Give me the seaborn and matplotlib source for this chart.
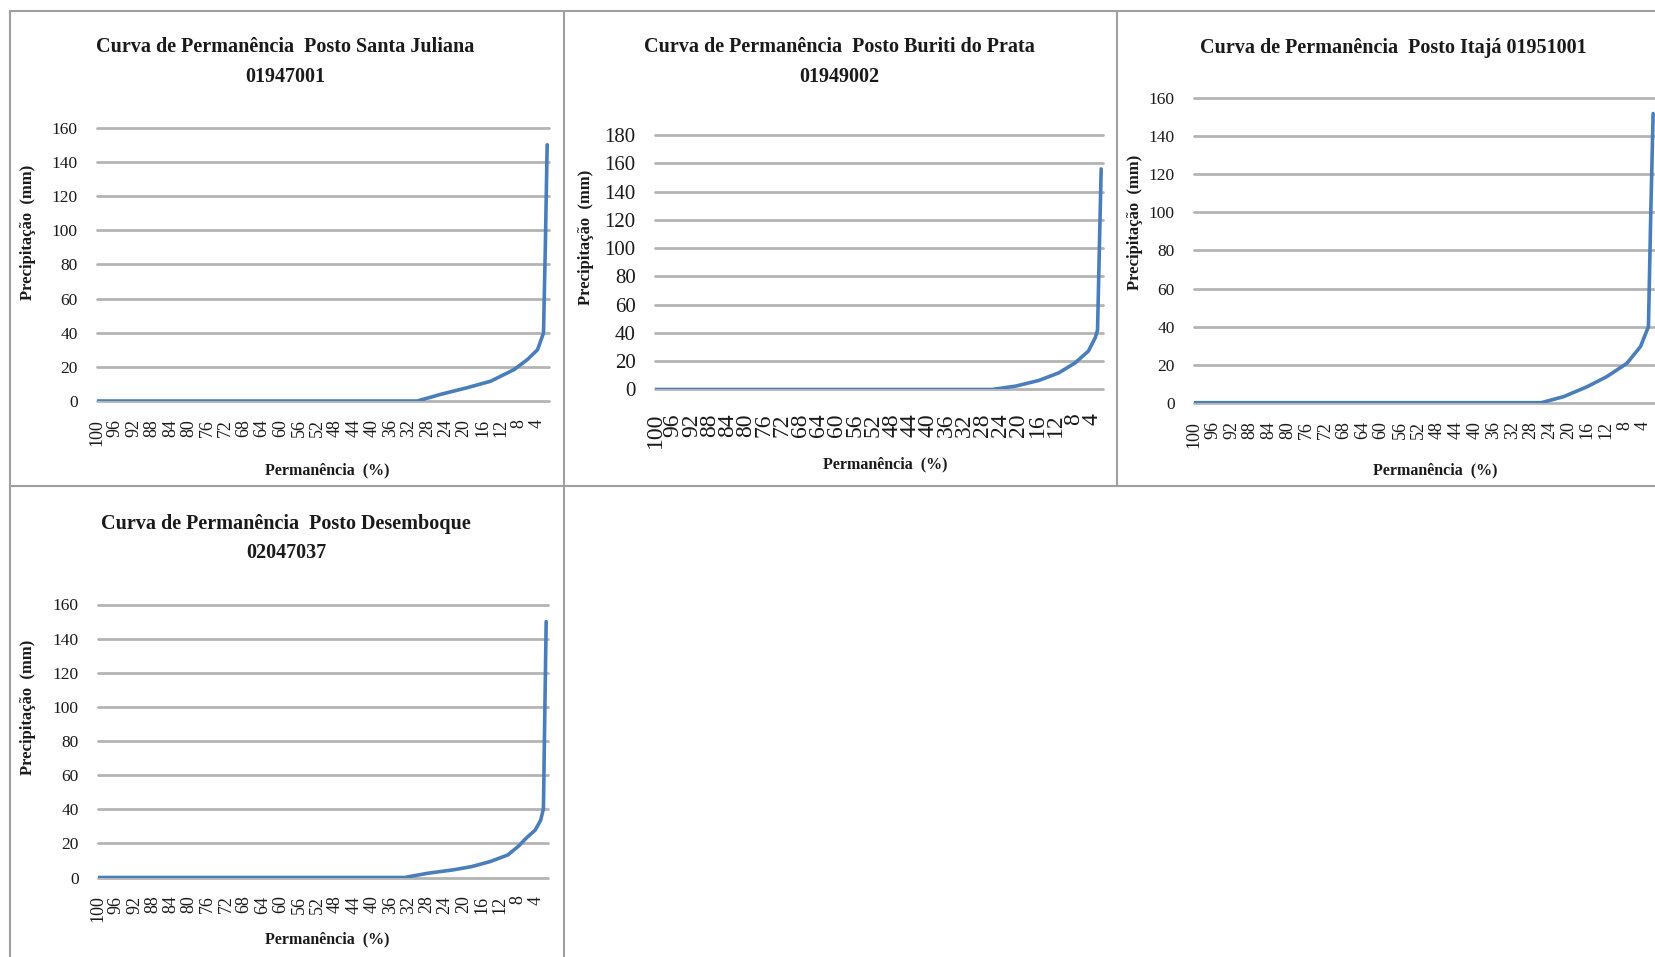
import matplotlib
matplotlib.use("Agg")
import matplotlib.pyplot as plt
from matplotlib.lines import Line2D
import seaborn as sns

# Curvas de permanência dos postos pluviométricos
titulos = [
    "Curva de Permanência  Posto Santa Juliana\n01947001",
    "Curva de Permanência  Posto Buriti do Prata\n01949002",
    "Curva de Permanência  Posto Itajá 01951001",
    "Curva de Permanência  Posto Desemboque\n02047037",
]

perm_santa_juliana = [100, 30.2, 25.1, 19.3, 14.2, 9.1, 6.2, 4.0, 2.7, 2.3, 1.9]
prec_santa_juliana = [0, 0, 3.9, 7.8, 11.6, 18.4, 24.3, 30.0, 39.8, 90, 150]

perm_buriti = [100, 25.9, 20.7, 15.6, 11.2, 7.6, 4.7, 3.2, 2.7, 2.3, 1.9]
prec_buriti = [0, 0, 2.4, 6.4, 11.8, 18.9, 27.2, 36.7, 42, 100, 156]

perm_itaja = [100, 25.8, 21.0, 16.0, 11.8, 7.5, 4.6, 2.9, 2.4, 1.9]
prec_itaja = [0, 0, 3.2, 8.4, 13.7, 20.7, 29.5, 40, 100, 152]

perm_desemboque = [100, 32.9, 27.8, 22.2, 18.2, 14.2, 10.3, 7.9, 6.3, 4.3, 3.1, 2.5, 2.2, 1.9]
prec_desemboque = [0, 0, 2.5, 4.5, 6.4, 9.3, 13.2, 18.5, 23, 27.8, 33.6, 40.4, 96, 150]

ymax = [160, 180, 160, 160]
xticks = list(range(100, 0, -4))

series = [
    (perm_santa_juliana, prec_santa_juliana),
    (perm_buriti, prec_buriti),
    (perm_itaja, prec_itaja),
    (perm_desemboque, prec_desemboque),
]

# --- layout (pixels da imagem 1655x957) ---
W, H = 1655, 957
# esquerda, direita, y do zero, y do topo
caixas = [(97, 549, 401, 127.7), (655, 1103, 389.5, 135), (1194, 1655, 402.7, 98.3), (98, 548, 877.5, 604.5)]
pos_titulo = [(285, 62), (839, 62), (1393, 47.5), (286, 538)]
pos_ylabel = [(28.5, 232), (586, 237.5), (1135, 222), (28.5, 707)]
pos_xlabel = [(327, 470), (885, 464), (1435, 470), (327, 939)]
fs_ytick = [12.5, 15, 12.5, 12.5]
fs_xtick = [13, 17, 13, 13]
pad_xtick = [13, 17, 13, 13]

AZUL = "#4a7ebb"
CINZA = "#b4b4b4"

sns.set_theme(style="white")
plt.rcParams["font.family"] = ["Liberation Serif", "DejaVu Serif"]
plt.rcParams["text.color"] = "#1a1a1a"

fig = plt.figure(figsize=(W / 100, H / 100), dpi=100)


def fx(px):
    return px / W


def fy(py):
    return 1 - py / H


for i, (perm, prec) in enumerate(series):
    esq, dir_, y0, ytop = caixas[i]
    ax = fig.add_axes([fx(esq), fy(y0), fx(dir_ - esq), (y0 - ytop) / H])
    sns.lineplot(x=perm, y=prec, ax=ax, color=AZUL, linewidth=2.6)
    ax.set_xlim(100, 1.5)
    ax.set_ylim(0, ymax[i])
    ax.set_yticks(range(0, ymax[i] + 1, 20))
    ax.set_xticks(xticks)
    ax.set_xticklabels([str(t) for t in xticks], rotation=90)
    ax.tick_params(axis="y", length=0, pad=14, labelsize=fs_ytick[i], colors="#1a1a1a")
    ax.tick_params(axis="x", length=0, pad=pad_xtick[i], labelsize=fs_xtick[i], colors="#1a1a1a")
    ax.yaxis.grid(True, color=CINZA, linewidth=2)
    ax.xaxis.grid(False)
    for gl in ax.get_ygridlines():
        gl.set_clip_on(False)
    ax.set_axisbelow(True)
    sns.despine(ax=ax, left=True, bottom=True)
    ax.set_xlabel("")
    ax.set_ylabel("")

    tx, ty = pos_titulo[i]
    fig.text(fx(tx), fy(ty), titulos[i], ha="center", va="center",
             fontsize=14.5, fontweight="bold", linespacing=1.6)
    lx, ly = pos_ylabel[i]
    fig.text(fx(lx), fy(ly), "Precipitação  (mm)", ha="center", va="center",
             rotation=90, fontsize=12, fontweight="bold")
    bx, by = pos_xlabel[i]
    fig.text(fx(bx), fy(by), "Permanência  (%)", ha="center", va="center",
             fontsize=11.5, fontweight="bold")

# bordas da tabela onde os gráficos estavam
BORDA = "#a0a0a0"
linhas = [
    ((9.5, W), (10.5, 10.5)),
    ((9.5, W), (485.5, 485.5)),
    ((9.5, 9.5), (10.5, H)),
    ((563.5, 563.5), (10.5, H)),
    ((1117, 1117), (10.5, 485.5)),
]
for xs, ys in linhas:
    fig.add_artist(Line2D([fx(x) for x in xs], [fy(y) for y in ys], color=BORDA, linewidth=1.5))

fig.savefig("out.png", dpi=100)
